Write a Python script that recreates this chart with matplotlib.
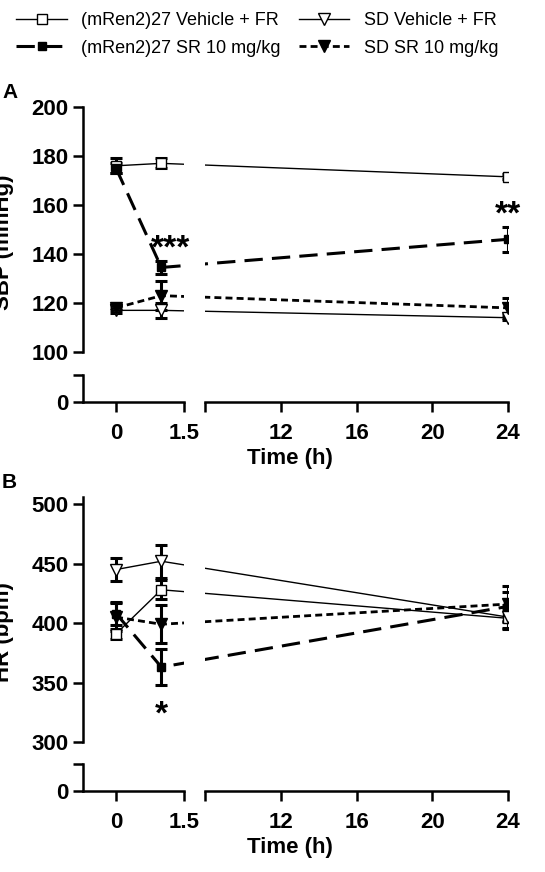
import matplotlib
matplotlib.use("Agg")
import matplotlib.pyplot as plt
from matplotlib.lines import Line2D

plt.rcParams['font.family'] = ['Liberation Sans', 'DejaVu Sans']
plt.rcParams['font.weight'] = 'bold'

time = [0, 1, 24]
# Panel A: SBP
sbp_ren_veh = [176, 177, 171.5]; sbp_ren_veh_err = [3, 2, 1]
sbp_ren_sr = [175, 134.5, 146]; sbp_ren_sr_err = [2, 2.5, 5]
sbp_sd_veh = [117, 117, 114]; sbp_sd_veh_err = [1, 3, 1]
sbp_sd_sr = [118, 123, 118]; sbp_sd_sr_err = [1, 6, 4]
# Panel B: HR
hr_ren_veh = [391, 428, 404]; hr_ren_veh_err = [4, 8, 8]
hr_ren_sr = [408, 363, 414]; hr_ren_sr_err = [10, 15, 12]
hr_sd_veh = [445, 452, 405]; hr_sd_veh_err = [10, 14, 10]
hr_sd_sr = [405, 399, 416]; hr_sd_sr_err = [12, 16, 15]

labels = ["(mRen2)27 Vehicle + FR", "(mRen2)27 SR 10 mg/kg",
          "SD Vehicle + FR", "SD SR 10 mg/kg"]

W, H = 545, 872
fig = plt.figure(figsize=(W/100, H/100), dpi=100)

def ax_px(x0, x1, ytop, ybot):
    return fig.add_axes([x0/W, 1-ybot/H, (x1-x0)/W, (ybot-ytop)/H])

styles = [
    dict(marker='s', mfc='white', mec='black', ls='-', lw=1.0, ms=7),
    dict(marker='s', mfc='black', mec='black', ls=(0, (6, 3)), lw=2.2, ms=6),
    dict(marker='v', mfc='white', mec='black', ls='-', lw=1.0, ms=9),
    dict(marker='v', mfc='black', mec='black', ls=(0, (2.5, 1.5)), lw=2.0, ms=9),
]

XL0, XL1, XR0, XR1 = 83, 184, 205, 508
LLIM = (-0.73, 1.5)
RLIM = (8, 24)

def to_px(t):
    # time value -> figure pixel x (broken axis)
    if t <= 1.5:
        return XL0 + (t - LLIM[0]) / (LLIM[1] - LLIM[0]) * (XL1 - XL0)
    return XR0 + (t - RLIM[0]) / (RLIM[1] - RLIM[0]) * (XR1 - XR0)

def px_to_left(p):
    return LLIM[0] + (p - XL0) / (XL1 - XL0) * (LLIM[1] - LLIM[0])

def px_to_right(p):
    return RLIM[0] + (p - XR0) / (XR1 - XR0) * (RLIM[1] - RLIM[0])

tl = [px_to_left(to_px(t)) for t in time]
tr = [px_to_right(to_px(t)) for t in time]

def panel(ytop, ybot, ybtop, ybbot, ylim, yticks, data, ylabel, letter, stars):
    axtl = ax_px(XL0, XL1, ytop, ybot)
    axtr = ax_px(XR0, XR1, ytop, ybot)
    axbl = ax_px(XL0, XL1, ybtop, ybbot)
    axbr = ax_px(XR0, XR1, ybtop, ybbot)
    for a in (axtl, axtr, axbl, axbr):
        a.set_facecolor('none')
        for s in a.spines.values():
            s.set_visible(False)
            s.set_linewidth(1.8)
        a.tick_params(direction='out', length=7, width=1.8, labelsize=16)
    for a in (axtl, axbl):
        a.set_xlim(*LLIM)
    for a in (axtr, axbr):
        a.set_xlim(*RLIM)
    for a in (axtl, axtr):
        a.set_ylim(*ylim)
        a.set_xticks([])
    for a in (axbl, axbr):
        a.set_ylim(0, 10)
    axtl.spines['left'].set_visible(True)
    axtl.spines['left'].set_bounds(ylim[0], ylim[1])
    axtl.set_yticks(yticks)
    axtr.set_yticks([])
    axbl.spines['left'].set_visible(True)
    axbl.spines['bottom'].set_visible(True)
    axbr.spines['bottom'].set_visible(True)
    axbl.set_yticks([0, 10]); axbl.set_yticklabels(['0', ''])
    axbr.set_yticks([])
    axbl.set_xticks([0, 1.5]); axbl.set_xticklabels(['0', '1.5'])
    axbr.set_xticks([8, 12, 16, 20, 24]); axbr.set_xticklabels(['', '12', '16', '20', '24'])
    for a in (axbl, axbr):
        a.tick_params(axis='x', pad=8)
    for a, xs in ((axtl, tl), (axtr, tr)):
        for (y, e), st in zip(data, styles):
            a.errorbar(xs, y, yerr=e, color='black', capsize=4, elinewidth=2.2,
                       capthick=2.2, clip_on=True, zorder=3, **st)
    axtl.set_ylabel(ylabel, fontsize=16, fontweight='bold')
    axtl.yaxis.set_label_coords(-0.68, 0.45)
    fig.text(2/W, 1-(ytop-15)/H, letter, fontsize=15, fontweight='bold', va='center')
    for (a, x, y, t) in stars:
        ax = axtl if a == 'l' else axtr
        xx = px_to_left(to_px(x)) if a == 'l' else px_to_right(to_px(x))
        ax.text(xx, y, t, fontsize=24, fontweight='bold', ha='center', va='center')
    fig.text(290/W, 1-(ybbot+56)/H, "Time (h)", fontsize=16, fontweight='bold',
             ha='center', va='center')

panel(107, 352, 375, 402, (100, 200), [100, 120, 140, 160, 180, 200],
      [(sbp_ren_veh, sbp_ren_veh_err), (sbp_ren_sr, sbp_ren_sr_err),
       (sbp_sd_veh, sbp_sd_veh_err), (sbp_sd_sr, sbp_sd_sr_err)],
      "SBP (mmHg)", "A", [('l', 1.2, 142, '***'), ('r', 24, 156, '**')])
panel(497, 742, 764, 791, (300, 506), [300, 350, 400, 450, 500],
      [(hr_ren_veh, hr_ren_veh_err), (hr_ren_sr, hr_ren_sr_err),
       (hr_sd_veh, hr_sd_veh_err), (hr_sd_sr, hr_sd_sr_err)],
      "HR (bpm)", "B", [('l', 1.0, 323, '*')])

handles = [Line2D([], [], color='black', **st) for st in styles]
fig.legend(handles, labels, ncol=2,
           loc='upper left', bbox_to_anchor=(0.0, 1.005), frameon=False,
           prop={'weight': 'normal', 'size': 13}, handlelength=2.8,
           columnspacing=1.0, labelspacing=0.6)

fig.savefig("out.png", dpi=100)
